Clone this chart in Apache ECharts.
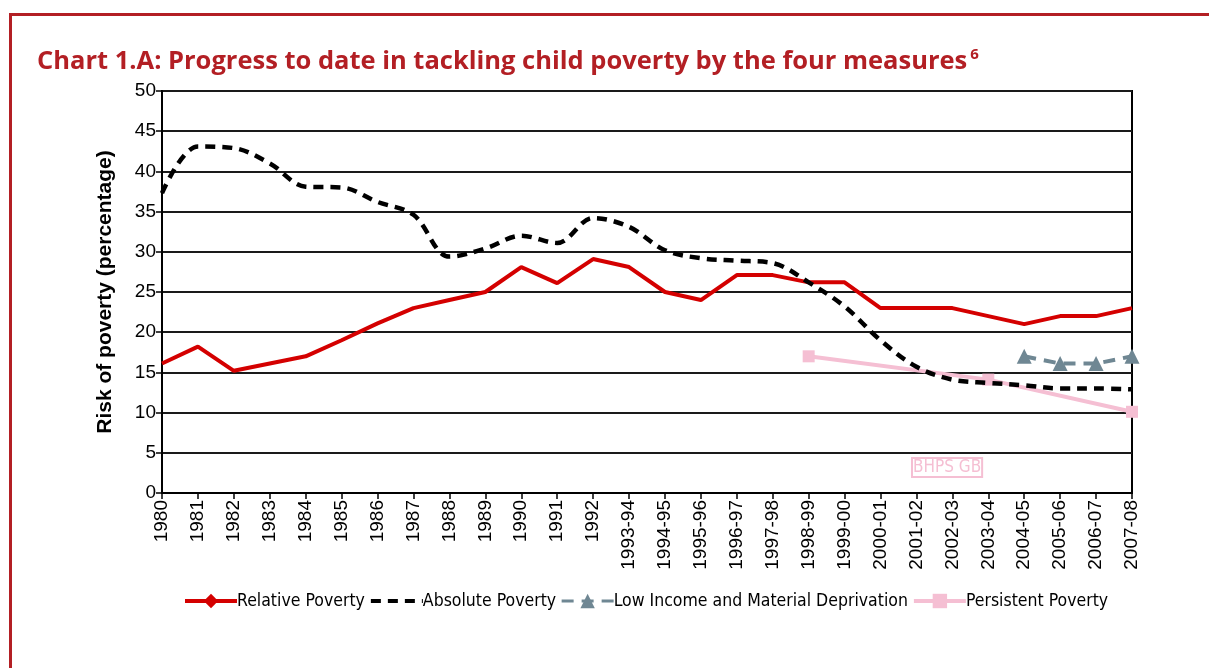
<!DOCTYPE html>
<html>
<head>
<meta charset="utf-8">
<title>Chart 1.A</title>
<script src="https://cdn.jsdelivr.net/npm/echarts@6/dist/echarts.min.js"></script>
<style>
    html, body { margin: 0; padding: 0; background: #fff; }
    #povertyChart { width: 1209px; height: 668px; }
</style>
</head>
<body>
<div id="povertyChart"></div>
<script>
    // categories on the x axis
    const years = ['1980', '1981', '1982', '1983', '1984', '1985', '1986', '1987', '1988', '1989',
        '1990', '1991', '1992', '1993-94', '1994-95', '1995-96', '1996-97', '1997-98', '1998-99',
        '1999-00', '2000-01', '2001-02', '2002-03', '2003-04', '2004-05', '2005-06', '2006-07', '2007-08']

    // series values
    const relativePoverty = [16.1, 18.2, 15.2, 16.1, 17, 19, 21.1, 23, 24, 25, 28.1, 26.1, 29.1, 28.1,
        25, 24, 27.1, 27.1, 26.2, 26.2, 23, 23, 23, 22, 21, 22, 22, 23]
    const absolutePoverty = [37.3, 43.1, 42.9, 41, 38.1, 38, 36.2, 34.6, 29.4, 30.4, 32, 31.1, 34.2, 33.1,
        30.2, 29.2, 28.9, 28.6, 26.2, 23.2, 19, 15.7, 14.1, 13.7, 13.4, 13, 13, 12.9]
    const lowIncomeDeprivation = [null, null, null, null, null, null, null, null, null, null, null, null, null, null,
        null, null, null, null, null, null, null, null, null, null, 17, 16.1, 16.1, 17]
    const persistentPoverty = [null, null, null, null, null, null, null, null, null, null, null, null, null, null,
        null, null, null, null, 17, null, null, null, null, 14.1, null, null, null, 10.1]

    const axisTicks = [0, 5, 10, 15, 20, 25, 30, 35, 40, 45, 50]

    const red = '#b31f24'
    const textFont = '"DejaVu Sans Condensed", "Liberation Sans", sans-serif'

    let option = {
        animation: false,
        title: {
            text: '{t|Chart 1.A: Progress to date in tackling child poverty by the four measures}{s|6}',
            left: 32,
            top: 42,
            textStyle: {
                rich: {
                    t: {
                        fontFamily: '"Open Sans", sans-serif',
                        fontWeight: 'bold',
                        fontSize: 25.5,
                        color: red
                    },
                    s: {
                        fontFamily: '"Open Sans", sans-serif',
                        fontSize: 15,
                        color: red,
                        verticalAlign: 'top',
                        padding: [0, 0, 14, 3]
                    }
                }
            }
        },
        graphic: [
            {
                type: 'rect',
                shape: { x: 10.5, y: 14.5, width: 1400, height: 900 },
                style: { fill: 'none', stroke: red, lineWidth: 3 },
                silent: true
            },
            {
                type: 'text',
                left: 911,
                top: 457,
                style: {
                    text: 'BHPS GB',
                    fill: '#f5bfd3',
                    font: '17px ' + textFont,
                    borderColor: '#f5bfd3',
                    borderWidth: 2,
                    padding: [1, 1]
                },
                z: 10
            }
        ],
        legend: {
            left: 178,
            top: 587,
            itemWidth: 52,
            itemHeight: 18,
            itemGap: 4,
            textStyle: {
                fontFamily: textFont,
                fontSize: 17.5,
                color: '#000',
                padding: [0, 0, 0, -5]
            },
            data: [
                { name: 'Relative Poverty', lineStyle: { width: 4 } },
                { name: 'Absolute Poverty', itemStyle: { opacity: 0 }, lineStyle: { width: 4 } },
                { name: 'Low Income and Material Deprivation', lineStyle: { width: 3 } },
                { name: 'Persistent Poverty', lineStyle: { width: 4 } }
            ]
        },
        grid: {
            left: 162,
            right: 77,
            top: 91,
            bottom: 175,
            show: true,
            borderColor: '#000',
            borderWidth: 2
        },
        xAxis: {
            type: 'category',
            data: years,
            boundaryGap: false,
            axisLine: { lineStyle: { color: '#000', width: 2 } },
            axisTick: { show: true, length: 6, lineStyle: { color: '#000', width: 1.5 } },
            axisLabel: {
                rotate: 90,
                interval: 0,
                color: '#000',
                fontFamily: '"Liberation Sans", sans-serif',
                fontSize: 19,
                margin: 7
            }
        },
        yAxis: {
            type: 'value',
            min: axisTicks[0],
            max: axisTicks[axisTicks.length - 1],
            interval: 5,
            name: 'Risk of poverty (percentage)',
            nameLocation: 'middle',
            nameGap: 46,
            nameTextStyle: {
                fontFamily: '"Liberation Sans", sans-serif',
                fontWeight: 'bold',
                fontSize: 21,
                color: '#000'
            },
            axisLine: { show: true, lineStyle: { color: '#000', width: 2 } },
            axisTick: { show: true, length: 6, lineStyle: { color: '#000', width: 1.5 } },
            axisLabel: {
                color: '#000',
                fontFamily: '"Liberation Sans", sans-serif',
                fontSize: 19,
                margin: 6
            },
            splitLine: { lineStyle: { color: '#1a1a1a', width: 2 } }
        },
        series: [
            {
                name: 'Relative Poverty',
                type: 'line',
                data: relativePoverty,
                symbol: 'diamond',
                symbolSize: 14,
                showSymbol: false,
                color: '#d40000',
                lineStyle: { color: '#d40000', width: 4 },
                z: 3
            },
            {
                name: 'Absolute Poverty',
                type: 'line',
                data: absolutePoverty,
                smooth: 0.35,
                symbol: 'none',
                color: '#000',
                lineStyle: { color: '#000', width: 4.5, type: [10, 7] },
                z: 4
            },
            {
                name: 'Low Income and Material Deprivation',
                type: 'line',
                data: lowIncomeDeprivation,
                symbol: 'triangle',
                symbolSize: 15,
                color: '#6f8793',
                itemStyle: { color: '#6f8793' },
                lineStyle: { color: '#6f8793', width: 4, type: [12, 8] },
                z: 5
            },
            {
                name: 'Persistent Poverty',
                type: 'line',
                data: persistentPoverty,
                connectNulls: true,
                symbol: 'rect',
                symbolSize: 12,
                color: '#f5bfd3',
                itemStyle: { color: '#f5bfd3' },
                lineStyle: { color: '#f5bfd3', width: 4 },
                z: 3
            }
        ]
    }

    const myChart = echarts.init(document.getElementById('povertyChart'))
    myChart.setOption(option)
</script>
</body>
</html>
